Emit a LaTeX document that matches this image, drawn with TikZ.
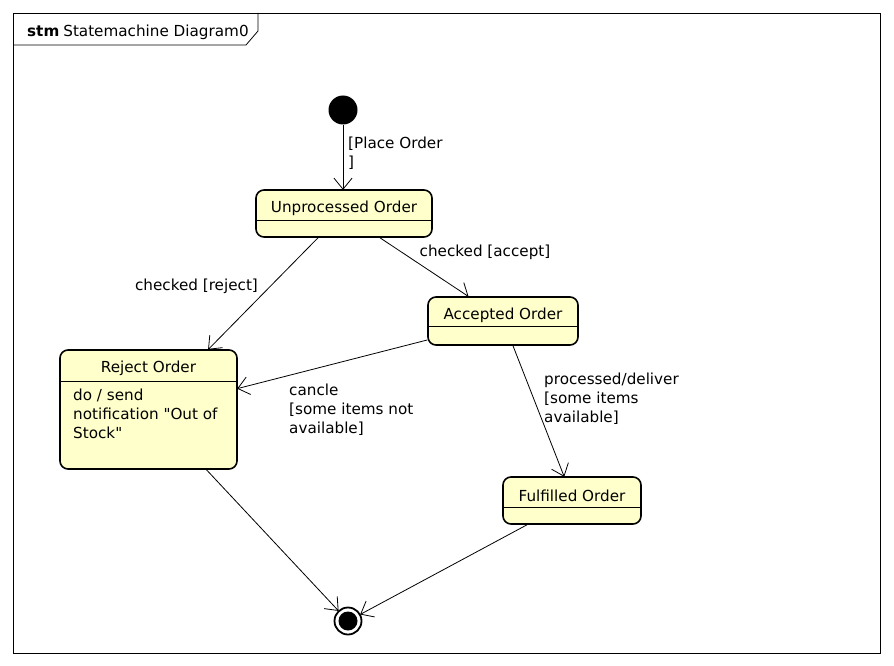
\documentclass[tikz,border=0pt]{standalone}
\usepackage{fontspec}
\setmainfont{DejaVu Sans}[Ligatures=TeXOff]
\usetikzlibrary{arrows.meta}
\definecolor{stateyellow}{RGB}{255,255,204}
\newcommand\diafont{\fontsize{15.2}{19}\selectfont}
% open V arrow tip, two plain lines
\pgfdeclarearrow{
  name = OpenV,
  parameters = {\the\pgfarrowlength,\the\pgfarrowwidth},
  setup code = {
    \pgfarrowssettipend{0pt}
    \pgfarrowssetlineend{-0.5\pgflinewidth}
    \pgfarrowssetbackend{-\pgfarrowlength}
    \pgfarrowssavethe\pgfarrowlength
    \pgfarrowssavethe\pgfarrowwidth
    \pgfarrowsupperhullpoint{-\pgfarrowlength}{.5\pgfarrowwidth}
    \pgfarrowshullpoint{0pt}{0pt}
  },
  drawing code = {
    \pgfsetdash{}{0pt}
    \pgfsetroundjoin
    \pgfpathmoveto{\pgfqpoint{-\pgfarrowlength}{.5\pgfarrowwidth}}
    \pgfpathlineto{\pgfpointorigin}
    \pgfpathlineto{\pgfqpoint{-\pgfarrowlength}{-.5\pgfarrowwidth}}
    \pgfusepathqstroke
  },
  defaults = {length=11pt, width=18pt}
}
\tikzset{> = OpenV}
\tikzset{
  state/.style = {draw, line width=1.6pt, rounded corners=8pt, fill=stateyellow, inner sep=0pt},
  statename/.style = {inner sep=0pt},
  lbl/.style = {inner sep=0pt, anchor=north west, align=left},
  divider/.style = {line width=1pt},
  transition/.style = {draw, ->, line width=0.8pt},
}

\begin{document}
\begin{tikzpicture}[x=1pt, y=-1pt, font=\diafont]
\useasboundingbox (0,0) rectangle (894,666);
% frame
\draw[line width=0.8pt] (13,13) rectangle (880,653);
\draw[line width=0.8pt] (13,45) -- (246,45) -- (258,31) -- (258,13);
\node[anchor=base west, inner sep=0pt] (title) at (27,36.5) {\textbf{stm}\hspace{4pt}Statemachine Diagram0};

% pseudo states
\node[circle, fill, minimum size=29pt, inner sep=0pt] (init) at (343,110) {};
\node[circle, draw, line width=1.8pt, minimum size=27pt, inner sep=0pt] (final) at (348,621) {};
\node[circle, fill, minimum size=19pt, inner sep=0pt] (finaldot) at (final) {};

% states
\node[state, minimum width=176pt, minimum height=47pt] (unproc) at (344,213.5) {};
\node[statename] (unproctitle) at (344,208.5) {Unprocessed Order};
\draw[divider] (unproc.west |- 0,220) -- (unproc.east |- 0,220);

\node[state, minimum width=150pt, minimum height=48pt] (accepted) at (503,321) {};
\node[statename] (acceptedtitle) at (503,315.5) {Accepted Order};
\draw[divider] (accepted.west |- 0,326) -- (accepted.east |- 0,326);

\node[state, minimum width=177pt, minimum height=119pt] (reject) at (148.5,409.5) {};
\node[statename] (rejecttitle) at (148.5,368.5) {Reject Order};
\draw[divider] (reject.west |- 0,381) -- (reject.east |- 0,381);
\node[lbl] (rejectdo) at (73,388.5) {do / send\\notification "Out of\\Stock"};

\node[state, minimum width=138pt, minimum height=47pt] (fulfilled) at (572,500.5) {};
\node[statename] (fulfilledtitle) at (572,495.5) {Fulfilled Order};
\draw[divider] (fulfilled.west |- 0,507) -- (fulfilled.east |- 0,507);

% edges
\path
(init) edge[transition] (init |- unproc.north)
([xshift=-26pt]unproc.south) edge[transition] ([xshift=60pt]reject.north)
([xshift=36pt]unproc.south) edge[transition] ([xshift=-35pt]accepted.north)
([yshift=-19pt]accepted.west) edge[transition] ([yshift=21pt]reject.east)
([xshift=10pt]accepted.south) edge[transition] ([xshift=-8pt]fulfilled.north)
([xshift=58pt]reject.south) edge[transition] (final)
([xshift=-45pt]fulfilled.south) edge[transition] (final);

% labels
\node[lbl] (placelbl) at (348,137) {[Place Order\\{]}};
\node[inner sep=0pt] (rejectlbl) at (196.5,286) {checked [reject]};
\node[inner sep=0pt] (acceptlbl) at (485,252) {checked [accept]};
\node[lbl] (canclelbl) at (289,384) {cancle\\{[some items not}\\available]};
\node[lbl] (deliverlbl) at (544,373) {processed/deliver\\{[some items}\\available]};
\end{tikzpicture}
\end{document}
